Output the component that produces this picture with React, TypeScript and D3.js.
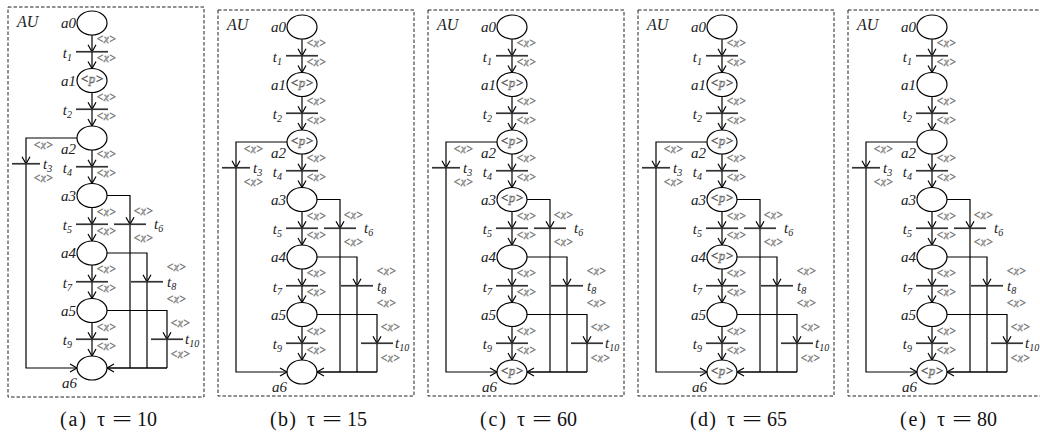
import React from "react";
import * as d3 from "d3";

// panel captions and the token marking in each panel
const panelTags = ["(a)", "(b)", "(c)", "(d)", "(e)"];
const tauValues = [10, 15, 60, 65, 80];
const markedPlaces = [
  ["a1"],
  ["a1", "a2"],
  ["a1", "a2", "a3", "a6"],
  ["a1", "a2", "a3", "a4", "a6"],
  ["a6"],
];

// main chain: places on even levels, transitions on odd levels
const placeNames = ["a0", "a1", "a2", "a3", "a4", "a5", "a6"];
const chainTransitions = ["1", "2", "4", "5", "7", "9"];
// side branches: [transition id, source place index]
const branches: [string, number][] = [
  ["6", 3],
  ["8", 4],
  ["10", 5],
];

const W = 1040;
const H = 434;
const RX = 15;
const RY = 12;
const BAR = 16;
const SERIF = "'Liberation Serif', 'Times New Roman', serif";
const GREY = "#777";
const LW = 1.2;

function Arrow({ x, y, dir }: { x: number; y: number; dir: "down" | "left" | "right" }) {
  let pts = "";
  if (dir === "down") pts = `${x - 4},${y - 7} ${x},${y} ${x + 4},${y - 7}`;
  if (dir === "right") pts = `${x - 7},${y - 4} ${x},${y} ${x - 7},${y + 4}`;
  if (dir === "left") pts = `${x + 7},${y - 4} ${x},${y} ${x + 7},${y + 4}`;
  return <polyline points={pts} fill="none" stroke="#000" strokeWidth={LW} />;
}

function XLabel({ x, y }: { x: number; y: number }) {
  return (
    <text x={x} y={y} dominantBaseline="middle" fontSize={11.5} fontStyle="italic" fill="#fff" stroke={GREY} strokeWidth={0.55}>
      {"<x>"}
    </text>
  );
}

function TLabel({ x, y, id, anchor }: { x: number; y: number; id: string; anchor: "start" | "end" }) {
  return (
    <text x={x} y={y} fontSize={15} fontStyle="italic" textAnchor={anchor} fill="#222">
      t<tspan fontSize={10} dy={3}>{id}</tspan>
    </text>
  );
}

function Panel({ index }: { index: number }) {
  const boxX = d3.scaleLinear().domain([0, 4]).range([8, 848])(index);
  const cx = boxX + 84;
  const dy = index === 0 ? 0 : 4;
  const level = d3.scaleLinear().domain([0, 12]).range([23 + dy, 368 + dy]);
  const boxTop = index === 0 ? 7 : 10;
  const boxBottom = index === 0 ? 397 : 396;
  const marks = markedPlaces[index];
  const yEnd = level(12);

  const t3y = level(5) - 3;
  const leftX = cx - 66;

  return (
    <g fontFamily={SERIF}>
      <rect x={boxX} y={boxTop} width={196} height={boxBottom - boxTop} fill="none" stroke="#222" strokeWidth={1} strokeDasharray="3.5,2" />
      <text x={boxX + 9} y={boxTop + 20} fontSize={16} fontStyle="italic" fill="#222">AU</text>

      {/* main chain arcs */}
      {chainTransitions.map((id, i) => {
        const ty = level(2 * i + 1);
        const yTop = level(2 * i) + RY;
        const yBot = level(2 * i + 2) - RY;
        return (
          <g key={id}>
            <line x1={cx} y1={yTop} x2={cx} y2={yBot} stroke="#000" strokeWidth={LW} />
            <Arrow x={cx} y={ty} dir="down" />
            <Arrow x={cx} y={yBot} dir="down" />
            <line x1={cx - BAR} y1={ty} x2={cx + BAR} y2={ty} stroke="#333" strokeWidth={1.7} />
            <XLabel x={cx + 4} y={ty - 11} />
            <XLabel x={cx + 4} y={ty + 8} />
            <TLabel x={cx - 20} y={ty + 6} id={id} anchor="end" />
          </g>
        );
      })}

      {/* left loop a2 -> t3 -> a6 */}
      <path d={`M${cx - RX},${level(4)} H${leftX} V${yEnd} H${cx - RX}`} fill="none" stroke="#000" strokeWidth={LW} />
      <Arrow x={leftX} y={t3y} dir="down" />
      <Arrow x={cx - RX} y={yEnd} dir="right" />
      <line x1={leftX - 14} y1={t3y} x2={leftX + 14} y2={t3y} stroke="#333" strokeWidth={1.7} />
      <XLabel x={leftX + 7} y={t3y - 17} />
      <XLabel x={leftX + 7} y={t3y + 16} />
      <TLabel x={leftX + 17} y={t3y + 5} id="3" anchor="start" />

      {/* right branches to a6 */}
      {branches.map(([id, src], i) => {
        const bx = cx + [38, 55, 75][i];
        const ty = level(2 * src + 1);
        const labelX = [cx + 62, cx + 75, cx + 93][i];
        const xStart = [cx + 41, cx + 74, cx + 78][i];
        const upper = [-12, -13, -15][i];
        const lower = [15, 19, 16][i];
        return (
          <g key={id}>
            <path d={`M${cx + RX},${level(2 * src)} H${bx} V${yEnd}`} fill="none" stroke="#000" strokeWidth={LW} />
            <Arrow x={bx} y={ty} dir="down" />
            <line x1={bx - BAR} y1={ty} x2={bx + BAR} y2={ty} stroke="#333" strokeWidth={1.7} />
            <XLabel x={xStart} y={ty + upper} />
            <XLabel x={xStart} y={ty + lower} />
            <TLabel x={labelX} y={ty + 5} id={id} anchor="start" />
          </g>
        );
      })}
      <line x1={cx + 75} y1={yEnd} x2={cx + RX} y2={yEnd} stroke="#000" strokeWidth={1.6} />
      <Arrow x={cx + RX} y={yEnd} dir="left" />

      {/* places */}
      {placeNames.map((name, k) => {
        const cy = level(2 * k);
        const marked = marks.includes(name);
        let lx = cx - RX - 1;
        let ly = cy + 5;
        if (name === "a2") ly = cy + 16;
        if (name === "a6") {
          lx = cx - 15;
          ly = cy + 20;
        }
        return (
          <g key={name}>
            <ellipse cx={cx} cy={cy} rx={RX} ry={RY} fill="#fff" stroke="#000" strokeWidth={1.2} />
            {marked && (
              <text x={cx} y={cy} textAnchor="middle" dominantBaseline="middle" fontSize={13} fontStyle="italic" fill="#fff" stroke="#555" strokeWidth={0.55}>
                {"<p>"}
              </text>
            )}
            <text x={lx} y={ly} textAnchor="end" fontSize={15} fontStyle="italic" fill="#222">{name}</text>
          </g>
        );
      })}

      {/* caption */}
      <g fontSize={20} fill="#111">
        <text x={boxX + 52} y={426} textLength={26} lengthAdjust="spacing">{panelTags[index]}</text>
        <text x={boxX + 89} y={426}>τ</text>
        <text x={boxX + 104} y={426} textLength={20} lengthAdjust="spacingAndGlyphs">=</text>
        <text x={boxX + 129} y={426}>{tauValues[index]}</text>
      </g>
    </g>
  );
}

export default function App() {
  return (
    <svg width={W} height={H} style={{ position: "absolute", left: 0, top: 0, background: "#fff" }}>
      <rect width={W} height={H} fill="#fff" />
      {panelTags.map((_, i) => (
        <Panel key={i} index={i} />
      ))}
    </svg>
  );
}
